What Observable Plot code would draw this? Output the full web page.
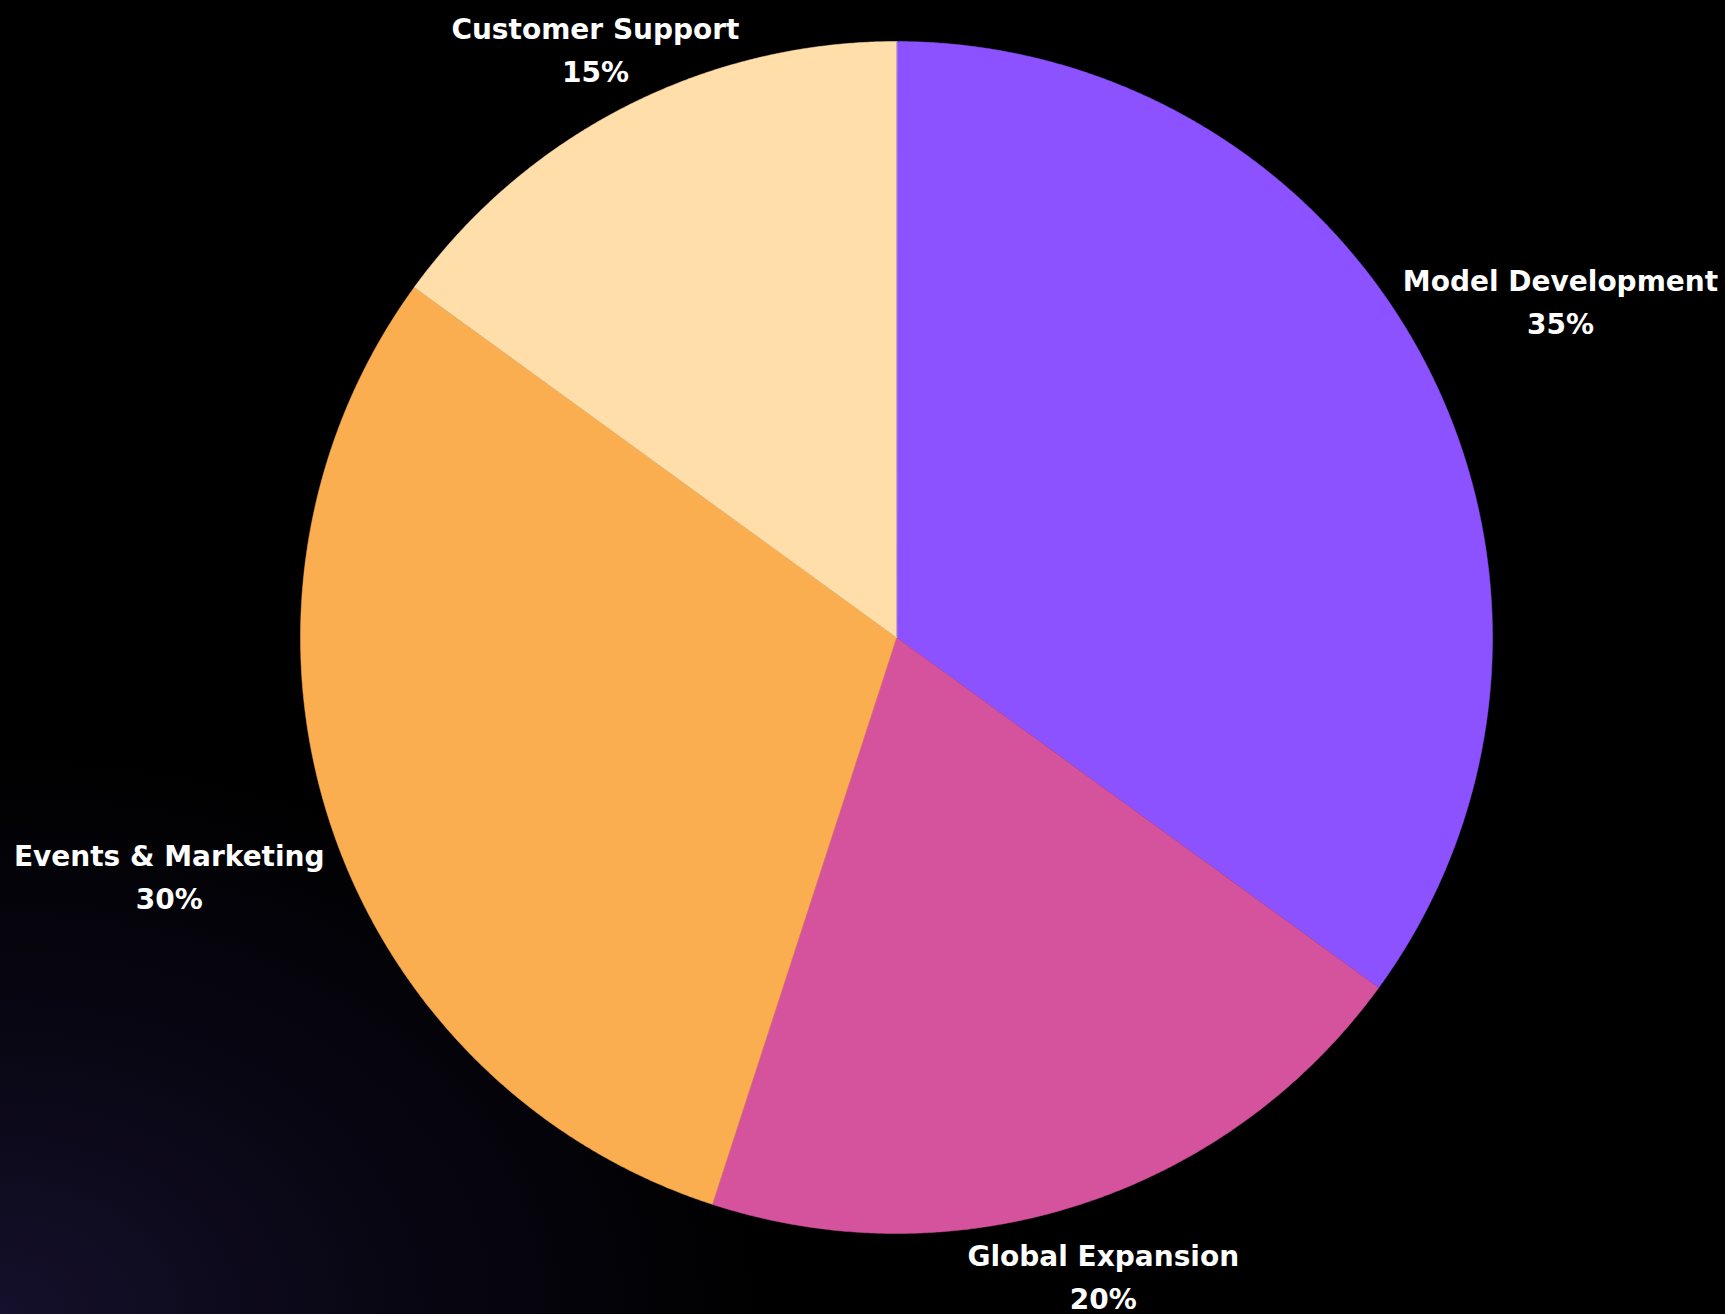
<!DOCTYPE html>
<html><head><meta charset="utf-8">
<script src="https://cdn.jsdelivr.net/npm/d3@7"></script>
<script src="https://cdn.jsdelivr.net/npm/@observablehq/plot@0.6"></script>
<style>
html,body{margin:0;padding:0;background:#000;}
body{width:1725px;height:1314px;overflow:hidden;
 background:radial-gradient(ellipse 760px 560px at 0% 100%, #15102b 0%, #0a0716 45%, #000 100%);}
#chart svg{display:block;}
</style></head><body><div id="chart"></div>
<script>
const categories = ["Model Development", "Global Expansion", "Events & Marketing", "Customer Support"];
const shares = [35, 20, 30, 15];
const shareLabels = ["35%", "20%", "30%", "15%"];
const colors = ["#8C52FF", "#D5529D", "#FAAE4F", "#FFDEAA"];

const W = 1725, H = 1314, CX = 896, CY = 637, R = 596;
const FONT_SIZE = 28;
const FONT = "'DejaVu Sans', sans-serif";

const total = d3.sum(shares);
let acc = 0;
const slices = categories.map((name, i) => {
  const a0 = acc / total * 2 * Math.PI;
  acc += shares[i];
  const a1 = acc / total * 2 * Math.PI;
  return {name, label: shareLabels[i], a0, a1};
});

// wedge outlines on the unit circle (angles measured clockwise from 12 o'clock)
const outline = slices.flatMap(s => {
  const n = Math.max(2, Math.ceil((s.a1 - s.a0) / (Math.PI / 720)));
  const pts = [{name: s.name, x: 0, y: 0}];
  for (let k = 0; k <= n; k++) {
    const a = s.a0 + (s.a1 - s.a0) * k / n;
    pts.push({name: s.name, x: Math.sin(a), y: Math.cos(a)});
  }
  return pts;
});

const ctx = document.createElement("canvas").getContext("2d");
ctx.font = `700 ${FONT_SIZE}px ${FONT}`;
const labels = slices.map(s => {
  const m = (s.a0 + s.a1) / 2;
  const w = ctx.measureText(s.name).width;
  const d = R + 16 + (w / 2) * Math.abs(Math.sin(m)) - 16 * Math.cos(m);
  return {text: s.name + "\n" + s.label, x: Math.sin(m) * d / R, y: Math.cos(m) * d / R};
});

const chart = Plot.plot({
  width: W, height: H, margin: 0,
  style: {background: "transparent", fontFamily: FONT, overflow: "hidden"},
  x: {domain: [-1, 1], range: [CX - R, CX + R], axis: null},
  y: {domain: [-1, 1], range: [CY + R, CY - R], axis: null},
  color: {domain: categories, range: colors},
  marks: [
    Plot.line(outline, {x: "x", y: "y", z: "name", fill: "name", stroke: "name", strokeWidth: 0.5, curve: "linear-closed"}),
    Plot.text(labels, {x: "x", y: "y", text: "text", fill: "white", fontSize: FONT_SIZE, fontWeight: 700,
      lineHeight: 1.53, lineAnchor: "middle", textAnchor: "middle"})
  ]
});
document.getElementById("chart").appendChild(chart);
</script></body></html>
